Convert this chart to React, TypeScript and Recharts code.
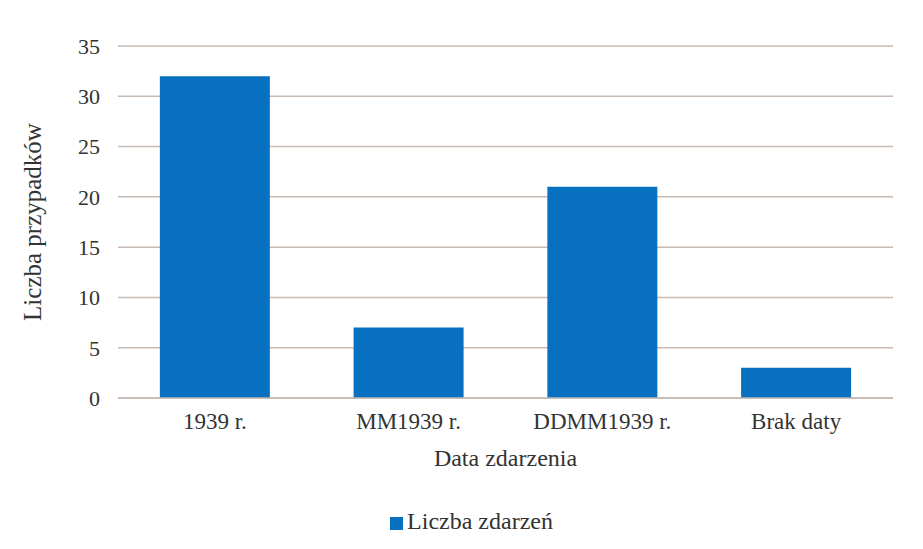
import { BarChart, Bar, XAxis, YAxis, CartesianGrid, Legend } from "recharts";

const categories = ["1939 r.", "MM1939 r.", "DDMM1939 r.", "Brak daty"];
const eventCounts = [32, 7, 21, 3];
const yTicks = [0, 5, 10, 15, 20, 25, 30, 35];

const data = categories.map((name, i) => ({ name, count: eventCounts[i] }));

const FONT = "'Liberation Serif', 'Times New Roman', serif";
const BLUE = "#0870c0";
const GRID = "#c6bab2";
const TEXT = "#333333";

export default function App() {
  return (
    <div style={{ position: "absolute", left: 0, top: 0, width: 923, height: 549, background: "#fff", fontFamily: FONT }}>
      <BarChart
        width={923}
        height={549}
        data={data}
        margin={{ top: 46, right: 30, left: 0, bottom: 14 }}
        barCategoryGap="21.6%"
      >
        <CartesianGrid vertical={false} stroke={GRID} strokeWidth={1.5} />
        <XAxis
          dataKey="name"
          height={110}
          tickLine={false}
          tickMargin={9}
          axisLine={{ stroke: GRID, strokeWidth: 1.5 }}
          tick={{ fontSize: 23, fill: TEXT, fontFamily: FONT }}
          label={{ value: "Data zdarzenia", position: "insideTop", offset: 51, fontSize: 24, fill: TEXT, fontFamily: FONT }}
        />
        <YAxis
          width={118}
          domain={[0, 35]}
          ticks={yTicks}
          tickLine={false}
          axisLine={false}
          tickMargin={12}
          tick={{ fontSize: 22, fill: TEXT, fontFamily: FONT }}
          label={{ value: "Liczba przypadków", angle: -90, position: "insideLeft", offset: 32, fontSize: 25, fill: TEXT, fontFamily: FONT, style: { textAnchor: "middle" } }}
        />
        <Legend
          verticalAlign="bottom"
          iconType="square"
          iconSize={13}
          wrapperStyle={{ fontSize: 24, fontFamily: FONT, paddingLeft: 60, boxSizing: "border-box" }}
          formatter={(v) => <span style={{ color: TEXT }}>{v}</span>}
        />
        <Bar dataKey="count" name="Liczba zdarzeń" fill={BLUE} isAnimationActive={false} />
      </BarChart>
    </div>
  );
}
